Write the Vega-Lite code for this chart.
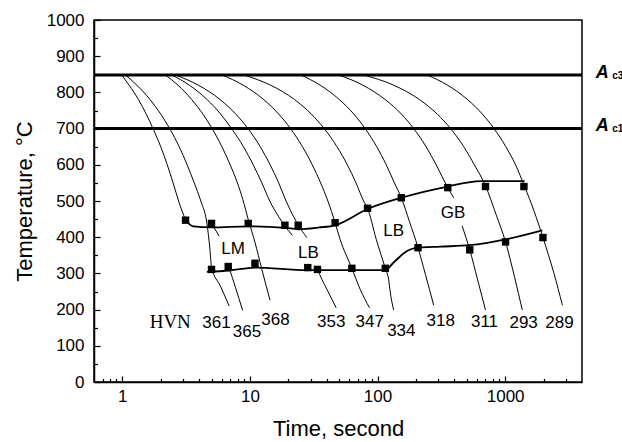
{
  "$schema": "https://vega.github.io/schema/vega-lite/v6.json",
  "width": 488,
  "height": 362,
  "autosize": {"type": "none"},
  "padding": {"left": 94, "top": 20, "right": 40, "bottom": 60},
  "background": "white",
  "config": {
    "view": {"stroke": "#000", "strokeWidth": 1.5},
    "font": "Liberation Sans",
    "axis": {"grid": false, "domainColor": "#000", "domainWidth": 1.5, "tickColor": "#000", "tickWidth": 1.2, "labelColor": "#000", "titleColor": "#000", "labelFont": "Liberation Sans", "titleFont": "Liberation Sans", "labelFontSize": 17, "titleFontSize": 22, "titleFontWeight": "normal"}
  },
  "datasets": {
    "ac": [
      {"id": "Ac3", "t": 0.6, "T": 848}, {"id": "Ac3", "t": 4000, "T": 848},
      {"id": "Ac1", "t": 0.6, "T": 700}, {"id": "Ac1", "t": 4000, "T": 700}
    ],
    "curves": [
      {"id": "c1", "t": 0.99, "T": 848}, {"id": "c1", "t": 1.13, "T": 820}, {"id": "c1", "t": 1.34, "T": 780}, {"id": "c1", "t": 1.54, "T": 740}, {"id": "c1", "t": 1.74, "T": 700}, {"id": "c1", "t": 2.0, "T": 650}, {"id": "c1", "t": 2.25, "T": 600}, {"id": "c1", "t": 2.5, "T": 550}, {"id": "c1", "t": 2.76, "T": 500}, {"id": "c1", "t": 3.13, "T": 447},
      {"id": "c2", "t": 1.06, "T": 848}, {"id": "c2", "t": 1.3, "T": 820}, {"id": "c2", "t": 1.65, "T": 780}, {"id": "c2", "t": 2.0, "T": 740}, {"id": "c2", "t": 2.35, "T": 700}, {"id": "c2", "t": 2.79, "T": 650}, {"id": "c2", "t": 3.22, "T": 600}, {"id": "c2", "t": 3.66, "T": 550}, {"id": "c2", "t": 4.12, "T": 500}, {"id": "c2", "t": 4.6, "T": 438}, {"id": "c2", "t": 4.85, "T": 370}, {"id": "c2", "t": 5.0, "T": 318}, {"id": "c2", "t": 5.87, "T": 265}, {"id": "c2", "t": 6.88, "T": 210},
      {"id": "b2a", "t": 5.0, "T": 438}, {"id": "b2a", "t": 5.74, "T": 403},
      {"id": "b2b", "t": 6.65, "T": 325}, {"id": "b2b", "t": 6.9, "T": 312}, {"id": "b2b", "t": 7.69, "T": 262}, {"id": "b2b", "t": 8.76, "T": 198},
      {"id": "c3", "t": 2.18, "T": 848}, {"id": "c3", "t": 2.73, "T": 820}, {"id": "c3", "t": 3.5, "T": 780}, {"id": "c3", "t": 4.28, "T": 740}, {"id": "c3", "t": 5.06, "T": 700}, {"id": "c3", "t": 6.03, "T": 650}, {"id": "c3", "t": 7.0, "T": 600}, {"id": "c3", "t": 7.98, "T": 550}, {"id": "c3", "t": 8.8, "T": 504}, {"id": "c3", "t": 9.7, "T": 449}, {"id": "c3", "t": 10.95, "T": 386}, {"id": "c3", "t": 12.4, "T": 311}, {"id": "c3", "t": 14.36, "T": 226},
      {"id": "c4", "t": 2.45, "T": 848}, {"id": "c4", "t": 3.35, "T": 820}, {"id": "c4", "t": 4.62, "T": 780}, {"id": "c4", "t": 5.9, "T": 740}, {"id": "c4", "t": 7.18, "T": 700}, {"id": "c4", "t": 8.9, "T": 650}, {"id": "c4", "t": 10.6, "T": 600}, {"id": "c4", "t": 12.4, "T": 550}, {"id": "c4", "t": 14.3, "T": 500}, {"id": "c4", "t": 16.7, "T": 458}, {"id": "c4", "t": 18.6, "T": 433}, {"id": "c4", "t": 21.5, "T": 405},
      {"id": "c5a", "t": 2.61, "T": 848}, {"id": "c5a", "t": 3.94, "T": 820}, {"id": "c5a", "t": 5.85, "T": 780}, {"id": "c5a", "t": 7.75, "T": 740}, {"id": "c5a", "t": 9.66, "T": 700}, {"id": "c5a", "t": 12.04, "T": 650}, {"id": "c5a", "t": 14.4, "T": 600}, {"id": "c5a", "t": 16.8, "T": 550}, {"id": "c5a", "t": 19.2, "T": 500}, {"id": "c5a", "t": 21.9, "T": 458}, {"id": "c5a", "t": 23.96, "T": 433}, {"id": "c5a", "t": 27.9, "T": 399},
      {"id": "c5b", "t": 33.8, "T": 311}, {"id": "c5b", "t": 36.6, "T": 284}, {"id": "c5b", "t": 40.1, "T": 256}, {"id": "c5b", "t": 47.4, "T": 205},
      {"id": "c6", "t": 6.06, "T": 848}, {"id": "c6", "t": 8.85, "T": 820}, {"id": "c6", "t": 12.83, "T": 780}, {"id": "c6", "t": 16.83, "T": 740}, {"id": "c6", "t": 20.8, "T": 700}, {"id": "c6", "t": 25.8, "T": 650}, {"id": "c6", "t": 30.8, "T": 600}, {"id": "c6", "t": 35.8, "T": 550}, {"id": "c6", "t": 40.8, "T": 500}, {"id": "c6", "t": 46.5, "T": 440}, {"id": "c6", "t": 50.9, "T": 394}, {"id": "c6", "t": 62.9, "T": 314}, {"id": "c6", "t": 73.1, "T": 256}, {"id": "c6", "t": 86.5, "T": 205},
      {"id": "c7", "t": 8.97, "T": 848}, {"id": "c7", "t": 14.5, "T": 820}, {"id": "c7", "t": 22.4, "T": 780}, {"id": "c7", "t": 30.3, "T": 740}, {"id": "c7", "t": 38.2, "T": 700}, {"id": "c7", "t": 48.1, "T": 650}, {"id": "c7", "t": 58.0, "T": 600}, {"id": "c7", "t": 67.8, "T": 550}, {"id": "c7", "t": 77.7, "T": 500}, {"id": "c7", "t": 83.5, "T": 480}, {"id": "c7", "t": 97.7, "T": 394}, {"id": "c7", "t": 115, "T": 314}, {"id": "c7", "t": 122, "T": 284}, {"id": "c7", "t": 125.9, "T": 247}, {"id": "c7", "t": 133.6, "T": 199},
      {"id": "c8", "t": 25.1, "T": 848}, {"id": "c8", "t": 35.5, "T": 820}, {"id": "c8", "t": 50.3, "T": 780}, {"id": "c8", "t": 65.2, "T": 740}, {"id": "c8", "t": 80, "T": 700}, {"id": "c8", "t": 98.5, "T": 650}, {"id": "c8", "t": 117, "T": 600}, {"id": "c8", "t": 135.6, "T": 550}, {"id": "c8", "t": 153.6, "T": 509}, {"id": "c8", "t": 177.5, "T": 444}, {"id": "c8", "t": 207.6, "T": 371}, {"id": "c8", "t": 237, "T": 297.5}, {"id": "c8", "t": 275.4, "T": 212},
      {"id": "c9a", "t": 49.8, "T": 848}, {"id": "c9a", "t": 76.7, "T": 820}, {"id": "c9a", "t": 115, "T": 780}, {"id": "c9a", "t": 154, "T": 740}, {"id": "c9a", "t": 192, "T": 700}, {"id": "c9a", "t": 240, "T": 650}, {"id": "c9a", "t": 288, "T": 600}, {"id": "c9a", "t": 355, "T": 537}, {"id": "c9a", "t": 395, "T": 509},
      {"id": "c9b", "t": 460, "T": 431}, {"id": "c9b", "t": 528, "T": 365}, {"id": "c9b", "t": 607, "T": 284}, {"id": "c9b", "t": 701, "T": 199},
      {"id": "c10", "t": 77.7, "T": 848}, {"id": "c10", "t": 133.7, "T": 820}, {"id": "c10", "t": 213.7, "T": 780}, {"id": "c10", "t": 293.7, "T": 740}, {"id": "c10", "t": 373.7, "T": 700}, {"id": "c10", "t": 473.7, "T": 650}, {"id": "c10", "t": 573.7, "T": 600}, {"id": "c10", "t": 705, "T": 540}, {"id": "c10", "t": 848, "T": 463}, {"id": "c10", "t": 1007, "T": 387}, {"id": "c10", "t": 1186, "T": 289}, {"id": "c10", "t": 1362, "T": 199},
      {"id": "c11", "t": 245, "T": 848}, {"id": "c11", "t": 353.5, "T": 820}, {"id": "c11", "t": 508, "T": 780}, {"id": "c11", "t": 663, "T": 740}, {"id": "c11", "t": 818, "T": 700}, {"id": "c11", "t": 1012, "T": 650}, {"id": "c11", "t": 1206, "T": 600}, {"id": "c11", "t": 1420, "T": 540}, {"id": "c11", "t": 1687, "T": 471.5}, {"id": "c11", "t": 1977, "T": 399}, {"id": "c11", "t": 2399, "T": 303}, {"id": "c11", "t": 2809, "T": 212}
    ],
    "trans": [
      {"id": "upper", "t": 3.13, "T": 447}, {"id": "upper", "t": 3.35, "T": 436}, {"id": "upper", "t": 3.6, "T": 430}, {"id": "upper", "t": 5.0, "T": 427}, {"id": "upper", "t": 9.7, "T": 430}, {"id": "upper", "t": 18.8, "T": 426}, {"id": "upper", "t": 23.9, "T": 422}, {"id": "upper", "t": 35, "T": 427}, {"id": "upper", "t": 46.5, "T": 433}, {"id": "upper", "t": 83.5, "T": 478}, {"id": "upper", "t": 153.6, "T": 509}, {"id": "upper", "t": 355, "T": 540}, {"id": "upper", "t": 640, "T": 555}, {"id": "upper", "t": 1420, "T": 555},
      {"id": "lower", "t": 4.6, "T": 304}, {"id": "lower", "t": 6.9, "T": 308}, {"id": "lower", "t": 10.95, "T": 316}, {"id": "lower", "t": 27.9, "T": 309}, {"id": "lower", "t": 115, "T": 309}, {"id": "lower", "t": 133.6, "T": 330}, {"id": "lower", "t": 170, "T": 362}, {"id": "lower", "t": 207.6, "T": 371}, {"id": "lower", "t": 311, "T": 374}, {"id": "lower", "t": 528, "T": 378}, {"id": "lower", "t": 1007, "T": 394}, {"id": "lower", "t": 1956, "T": 419}
    ],
    "markers": [
      {"t": 3.13, "T": 447}, {"t": 5.0, "T": 438}, {"t": 9.7, "T": 438}, {"t": 18.8, "T": 433}, {"t": 23.9, "T": 433}, {"t": 46.5, "T": 440}, {"t": 83.5, "T": 480}, {"t": 153.6, "T": 509}, {"t": 355, "T": 537}, {"t": 701, "T": 540}, {"t": 1403, "T": 540},
      {"t": 5.0, "T": 311}, {"t": 6.76, "T": 319}, {"t": 10.95, "T": 328}, {"t": 28.4, "T": 316}, {"t": 33.8, "T": 311}, {"t": 62.9, "T": 314}, {"t": 115, "T": 314}, {"t": 207.6, "T": 371}, {"t": 528, "T": 365}, {"t": 1007, "T": 387}, {"t": 1977, "T": 399}
    ],
    "nums": [
      {"text": "361", "t": 5.475, "T": 162}, {"text": "365", "t": 9.47, "T": 139}, {"text": "368", "t": 15.86, "T": 171}, {"text": "353", "t": 43.3, "T": 166}, {"text": "347", "t": 86.8, "T": 166}, {"text": "334", "t": 153.6, "T": 141}, {"text": "318", "t": 312.6, "T": 168.5}, {"text": "311", "t": 689, "T": 166}, {"text": "293", "t": 1395, "T": 164}, {"text": "289", "t": 2666, "T": 164},
      {"text": "LM", "t": 7.39, "T": 366.6}, {"text": "LB", "t": 28.7, "T": 357.5}, {"text": "LB", "t": 133.6, "T": 417}, {"text": "GB", "t": 389.7, "T": 468}
    ],
    "hvn": [{"text": "HVN", "t": 2.375, "T": 166}],
    "acA": [{"text": "A", "t": 5129, "T": 840}, {"text": "A", "t": 5129, "T": 693}],
    "acSub": [{"text": "c3", "t": 6900, "T": 837}, {"text": "c1", "t": 6900, "T": 690}]
  },
  "encoding": {
    "x": {
      "field": "t", "type": "quantitative",
      "scale": {"type": "log", "domain": [0.6, 4000], "nice": false},
      "axis": {
        "title": "Time, second",
        "values": [0.7, 0.8, 0.9, 1, 2, 3, 4, 5, 6, 7, 8, 9, 10, 20, 30, 40, 50, 60, 70, 80, 90, 100, 200, 300, 400, 500, 600, 700, 800, 900, 1000, 2000, 3000],
        "labelExpr": "indexof([1, 10, 100, 1000], datum.value) >= 0 ? format(datum.value, 'd') : ''",
        "tickSize": {"condition": {"test": "indexof([1, 10, 100, 1000], datum.value) >= 0", "value": -6}, "value": -3.5},
        "labelPadding": 12,
        "labelOverlap": false,
        "labelFlush": false,
        "titlePadding": 12
      }
    },
    "y": {
      "field": "T", "type": "quantitative",
      "scale": {"domain": [0, 1000], "nice": false},
      "axis": {
        "title": "Temperature, °C",
        "values": [0, 50, 100, 150, 200, 250, 300, 350, 400, 450, 500, 550, 600, 650, 700, 750, 800, 850, 900, 950, 1000],
        "labelExpr": "datum.value % 100 === 0 ? format(datum.value, 'd') : ''",
        "tickSize": {"condition": {"test": "datum.value % 100 === 0", "value": -6}, "value": -3.5},
        "labelPadding": 16,
        "labelOverlap": false,
        "labelFlush": false,
        "titlePadding": 10
      }
    }
  },
  "layer": [
    {"data": {"name": "ac"}, "mark": {"type": "line", "color": "#000", "strokeWidth": 3}, "encoding": {"detail": {"field": "id"}}},
    {"data": {"name": "curves"}, "mark": {"type": "line", "color": "#000", "strokeWidth": 1, "interpolate": "monotone"}, "encoding": {"detail": {"field": "id"}}},
    {"data": {"name": "trans"}, "mark": {"type": "line", "color": "#000", "strokeWidth": 1.8, "interpolate": "monotone"}, "encoding": {"detail": {"field": "id"}}},
    {"data": {"name": "markers"}, "mark": {"type": "point", "shape": "square", "filled": true, "color": "#000", "opacity": 1, "size": 55}},
    {"data": {"name": "nums"}, "mark": {"type": "text", "font": "Liberation Sans", "fontSize": 17, "align": "center", "baseline": "middle", "color": "#000"}, "encoding": {"text": {"field": "text"}}},
    {"data": {"name": "hvn"}, "mark": {"type": "text", "font": "Liberation Serif", "fontSize": 19, "align": "center", "baseline": "middle", "color": "#000"}, "encoding": {"text": {"field": "text"}}},
    {"data": {"name": "acA"}, "mark": {"type": "text", "font": "Liberation Sans", "fontSize": 18, "fontWeight": "bold", "fontStyle": "italic", "align": "left", "baseline": "alphabetic", "color": "#000"}, "encoding": {"text": {"field": "text"}}},
    {"data": {"name": "acSub"}, "mark": {"type": "text", "font": "Liberation Sans", "fontSize": 10, "fontWeight": "bold", "align": "left", "baseline": "alphabetic", "color": "#000"}, "encoding": {"text": {"field": "text"}}}
  ]
}
